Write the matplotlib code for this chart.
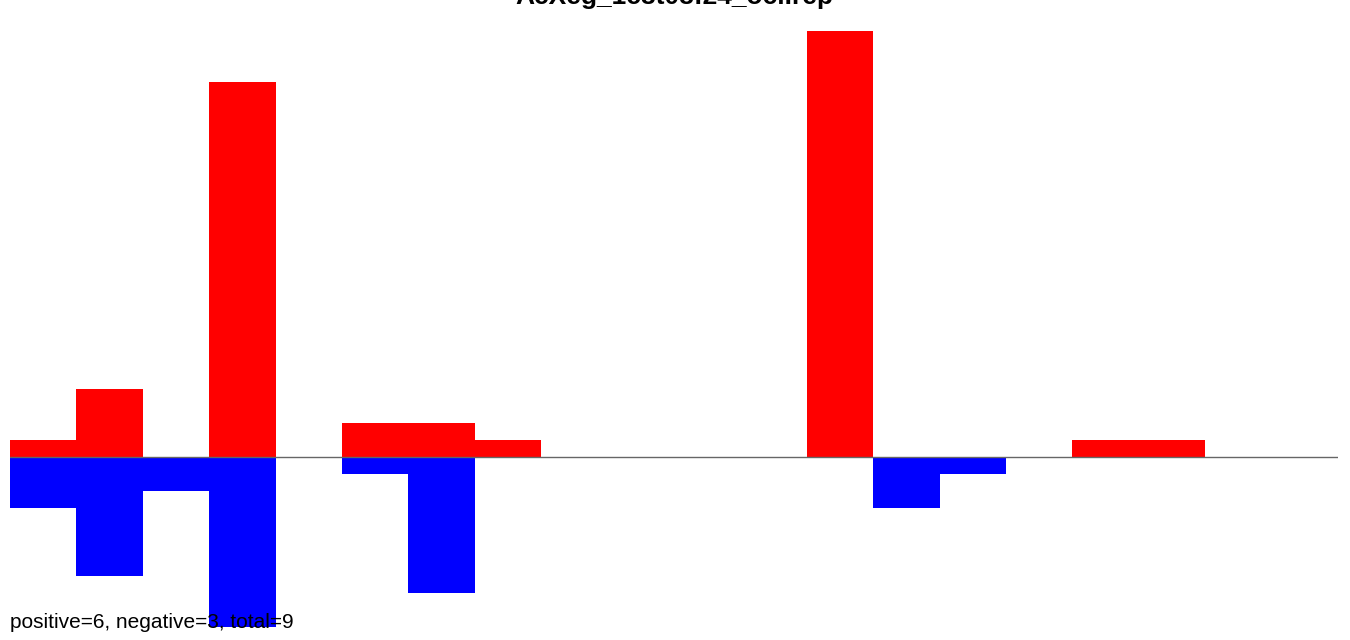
import matplotlib
matplotlib.use("Agg")
import matplotlib.pyplot as plt

bins = list(range(20))
positive = [1, 4, 0, 22, 0, 2, 2, 1, 0, 0, 0, 0, 25, 0, 0, 0, 1, 1, 0, 0]
negative = [-3, -7, -2, -10, 0, -1, -8, 0, 0, 0, 0, 0, 0, -3, -1, 0, 0, 0, 0, 0]
title = "AcXeg_1c8t08:24_ocl.rep"
summary = "positive=6, negative=3, total=9"

plt.rcParams['font.family'] = ['Liberation Sans', 'DejaVu Sans']
fig = plt.figure(figsize=(13.5, 6.4), dpi=100)
ax = fig.add_axes([10/1350, 13/640, 1328/1350, 613/640])
ax.bar(bins, positive, width=1.0, align='edge', color='#ff0000', linewidth=0)
ax.bar(bins, negative, width=1.0, align='edge', color='#0000ff', linewidth=0)
ax.axhline(0, color='#666666', linewidth=1)
ax.set_xlim(0, 20)
ax.set_ylim(-10, 26)
ax.axis('off')
fig.text(674/1350, 1 - 4/640, title, ha='center', va='baseline', fontsize=19, fontweight='bold')
fig.text(10/1350, 1 - 628/640, summary, ha='left', va='baseline', fontsize=15, zorder=10)
fig.savefig("out.png", dpi=100)
